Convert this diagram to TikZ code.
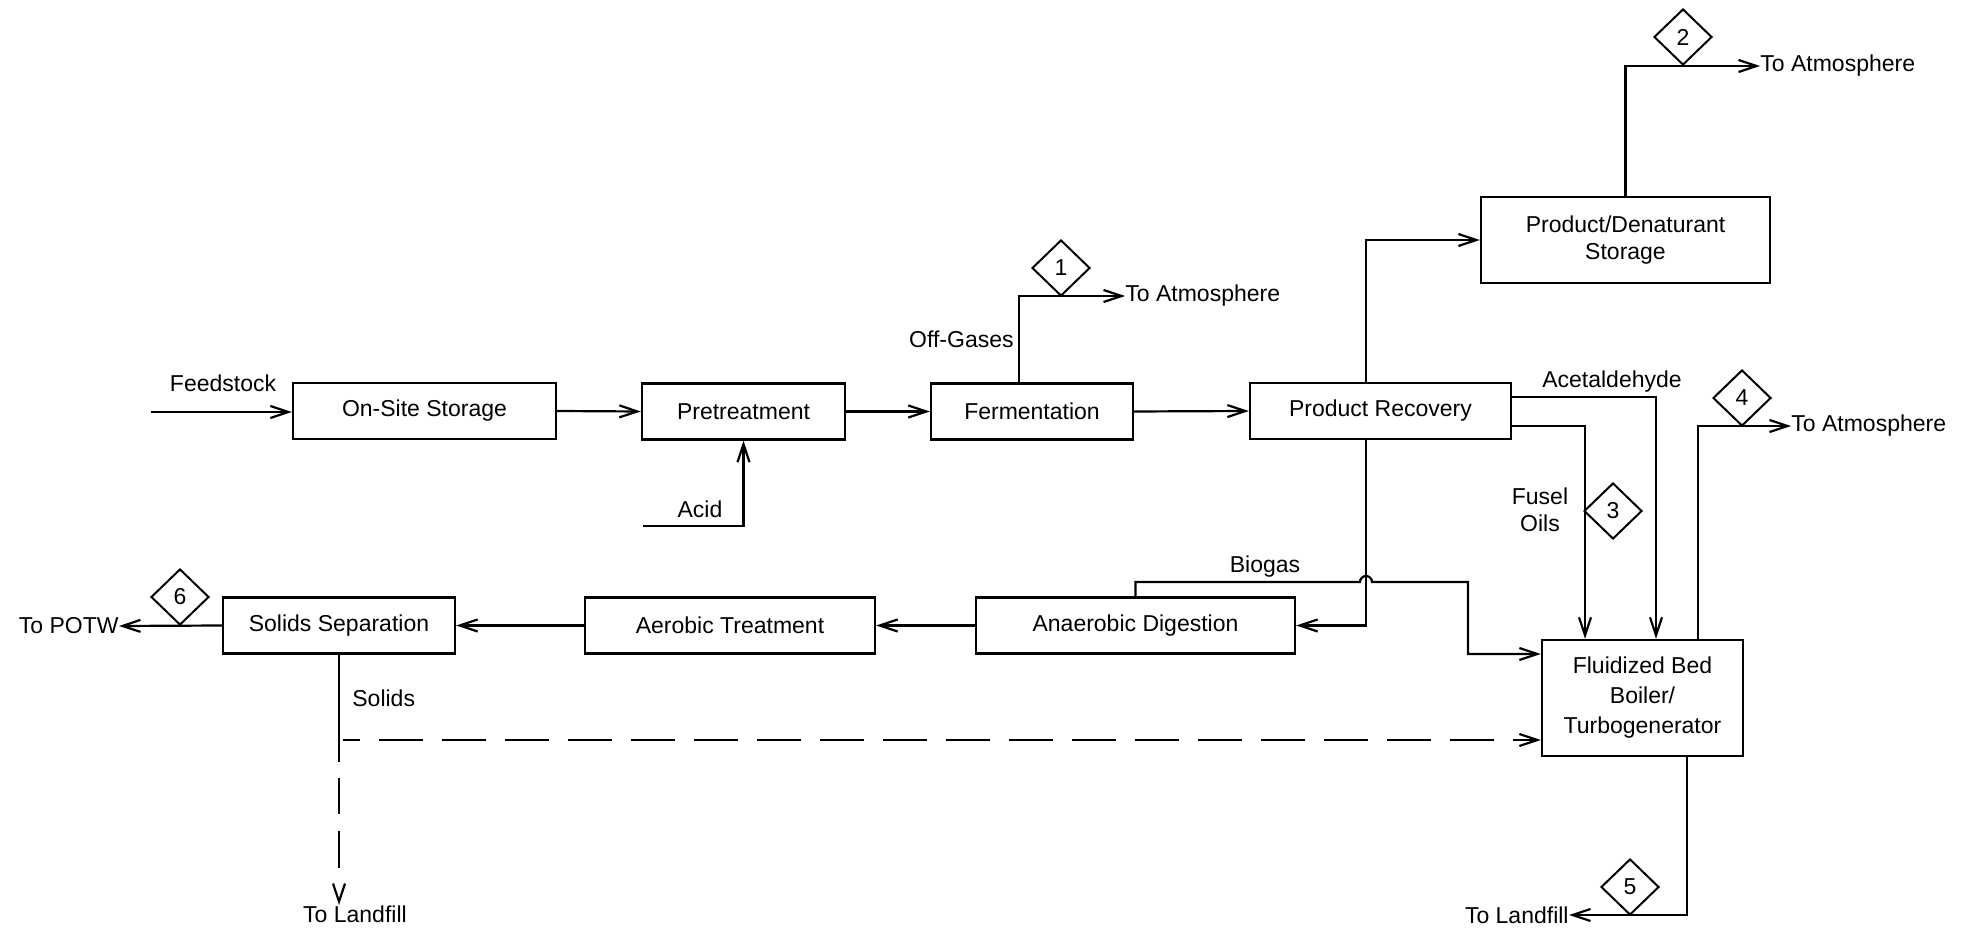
\documentclass[tikz,border=0pt]{standalone}
\usepackage{fontspec}
\setmainfont{Liberation Sans}
\usetikzlibrary{shapes.geometric,arrows.meta}
\begin{document}
\begin{tikzpicture}[x=0.5pt,y=-0.5pt,font=\fontsize{11.5}{13.5}\selectfont]
	\tikzset{process/.style = {shape=rectangle,draw,line width=1.2pt,inner sep=0pt,minimum height=28pt,align=center}}
	\tikzset{flow/.style = {-{Straight Barb[length=9pt,width=6pt]},line width=1.1pt}}
	\tikzset{streamno/.style = {shape=diamond,draw,line width=1pt,inner sep=0pt,minimum width=29pt,minimum height=28pt}}
	\tikzset{txt/.style = {inner sep=0pt,align=center}}
	\useasboundingbox (0,0) rectangle (1971,930);
	% process units
	\node[process,minimum width=131.5pt] (storage) at (424.5,411) {On-Site Storage};
	\node[process,minimum width=101.5pt] (pretreat) at (743.5,411.5) {Pretreatment};
	\node[process,minimum width=101pt] (ferment) at (1032,411.5) {Fermentation};
	\node[process,minimum width=130.5pt] (recovery) at (1380.5,411) {Product Recovery};
	\node[process,minimum width=144.5pt,minimum height=43pt] (denat) at (1625.5,240) {Product/Denaturant\\Storage};
	\node[process,minimum width=100.5pt,minimum height=58pt] (boiler) at (1642.5,698) {Fluidized Bed\\[1.5pt]Boiler/\\[1.5pt]Turbogenerator};
	\node[process,minimum width=159.5pt] (anaerobic) at (1135.5,625.5) {Anaerobic Digestion};
	\node[process,minimum width=145pt] (aerobic) at (730,625.5) {Aerobic Treatment};
	\node[process,minimum width=116pt] (solidsep) at (339,625.5) {Solids Separation};
	% main line
	\coordinate (feedin) at (151,412);
	\node[txt] at (223,383) {Feedstock};
	\draw[flow] (feedin) -- (feedin -| storage.west);
	\draw[flow] (storage.east) -- (pretreat.west);
	\draw[flow] (pretreat.east) -- (ferment.west);
	\draw[flow] (ferment.east) -- (recovery.west);
	\coordinate (acidin) at (643,526);
	\draw[flow] (acidin) -| (pretreat.south);
	\node[txt] at (700,509) {Acid};
	% off-gases
	\coordinate (offgas) at (1019,296);
	\node[txt,anchor=west] (atm1) at (1125,296) {To Atmosphere};
	\draw[flow] (offgas |- ferment.north) -- (offgas) -- (atm1.west);
	\node[txt,anchor=east] at (1014,339) {Off-Gases};
	\node[streamno] (s1) at (1061,268) {1};
	% product
	\coordinate (produp) at (1366,240);
	\draw[flow] (produp |- recovery.north) -- (produp) -- (denat.west);
	\draw[flow] (produp |- recovery.south) |- (anaerobic.east);
	\node[txt,anchor=west] (atm2) at (1760,66) {To Atmosphere};
	\draw[flow] (denat.north) |- (atm2.west);
	\node[streamno] (s2) at (1683,37) {2};
	% to the boiler
	\draw[flow] ([yshift=7pt]recovery.east) -| ([xshift=6.75pt]boiler.north);
	\node[txt] at (1612,382) {Acetaldehyde};
	\draw[flow] ([yshift=-7.5pt]recovery.east) -| ([xshift=-28.75pt]boiler.north);
	\node[txt] at (1540,510) {Fusel\\Oils};
	\node[streamno] (s3) at (1613,511) {3};
	\node[txt,anchor=west] (atm4) at (1791,426) {To Atmosphere};
	\draw[flow] ([xshift=27.75pt]boiler.north) |- (atm4.west);
	\node[streamno] (s4) at (1742,398) {4};
	% biogas
	\coordinate (hop) at (1366,582);
	\coordinate (bioturn) at (1468,654);
	\draw[flow] (anaerobic.north) |- ([xshift=-3pt]hop) arc[start angle=180,end angle=0,radius=3pt] -| (bioturn) -- (bioturn -| boiler.west);
	\node[txt] at (1265,567) {Biogas};
	% waste water
	\draw[flow] (anaerobic.west) -- (aerobic.east);
	\draw[flow] (aerobic.west) -- (solidsep.east);
	\node[txt,anchor=east] (potw) at (119,626) {To POTW};
	\draw[flow] (solidsep.west) -- (potw.east);
	\node[streamno] (s6) at (180,597) {6};
	% solids
	\node[txt,anchor=west] at (352,698) {Solids};
	\node[txt,anchor=north] (landfill1) at (355,905) {To Landfill};
	\draw[flow,dash pattern=on 53.5pt off 8pt on 18pt off 8.5pt on 18.5pt off 50pt] (solidsep.south) -- (solidsep.south |- landfill1.north);
	\coordinate (solidsdash) at (343,740);
	\draw[flow,dash pattern=on 22pt off 9.5pt,dash phase=13.5pt] (solidsdash) -- (solidsdash -| boiler.west);
	\node[txt,anchor=east] (landfill2) at (1569,915) {To Landfill};
	\draw[flow] ([xshift=22.25pt]boiler.south) |- (landfill2.east);
	\node[streamno] (s5) at (1630,887) {5};
\end{tikzpicture}
\end{document}
